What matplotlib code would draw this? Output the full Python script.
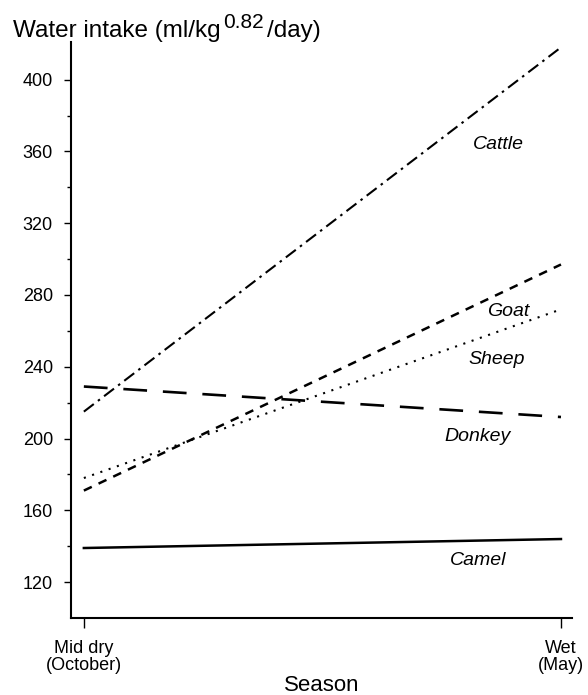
import matplotlib
matplotlib.use("Agg")
import matplotlib.pyplot as plt
from matplotlib.transforms import offset_copy

plt.rcParams['font.family'] = ['Liberation Sans', 'DejaVu Sans']

# Seasons on the x axis
seasons = ["Mid dry\n(October)", "Wet\n(May)"]
season_pos = [0, 1]

# Water intake (ml/kg^0.82/day) per species, mid dry -> wet
species = ["Cattle", "Goat", "Sheep", "Donkey", "Camel"]
cattle = [215, 418]
goat = [171, 297]
sheep = [178, 272]
donkey = [229, 212]
camel = [139, 144]

y_ticks = [120, 160, 200, 240, 280, 320, 360, 400]
y_minor = [140, 180, 220, 260, 300, 340, 380]

fig = plt.figure(figsize=(5.88, 6.95), dpi=100)
ax = fig.add_axes([0.1207, 0.1108, 0.852, 0.8288])

lw = 1.5
ax.plot(season_pos, cattle, color='black', lw=lw, linestyle=(0, (6, 2.5, 1.2, 2.5)))
ax.plot(season_pos, goat, color='black', lw=lw + 0.3, linestyle=(0, (3.5, 3)))
ax.plot(season_pos, sheep, color='black', lw=lw, linestyle=(0, (1, 3.2)))
ax.plot(season_pos, donkey, color='black', lw=lw + 0.4, linestyle=(0, (9, 6)))
ax.plot(season_pos, camel, color='black', lw=lw + 0.3, linestyle='-')

# Species labels placed beside their lines
label_pos = {
    "Cattle": (0.868, 364),
    "Goat": (0.890, 271),
    "Sheep": (0.866, 244),
    "Donkey": (0.826, 201),
    "Camel": (0.826, 132),
}
for name in species:
    x, y = label_pos[name]
    ax.text(x, y, name, style='italic', fontsize=14, ha='center', va='center')

ax.set_xlim(-0.027, 1.023)
ax.set_ylim(100, 421)

ax.set_yticks(y_ticks)
ax.set_yticks(y_minor, minor=True)
ax.set_yticklabels([str(v) for v in y_ticks], fontsize=13)
ax.tick_params(axis='y', which='major', direction='out', length=5, width=1, pad=8)
ax.tick_params(axis='y', which='minor', direction='out', length=3, width=1)

ax.set_xticks(season_pos)
ax.set_xticklabels(seasons, fontsize=13, linespacing=0.95)
ax.tick_params(axis='x', direction='out', length=7, width=1, pad=9)

for side in ('top', 'right'):
    ax.spines[side].set_visible(False)
for side in ('left', 'bottom'):
    ax.spines[side].set_linewidth(1.5)

# Axis title with a raised exponent, laid out piece by piece
renderer = fig.canvas.get_renderer()
base_y = 1 - 37 / 695
base_px = base_y * fig.bbox.height
t1 = fig.text(13 / 588, base_y, 'Water intake (ml/kg', fontsize=17.5,
              ha='left', va='baseline')
x1 = t1.get_window_extent(renderer).x1
t2 = fig.text(0, 0, '0.82', fontsize=15, ha='left', va='baseline',
              transform=offset_copy(fig.transFigure, fig, x=x1 + 2, y=base_px + 9,
                                    units='dots'))
x2 = t2.get_window_extent(renderer).x1
fig.text(0, 0, '/day)', fontsize=17.5, ha='left', va='baseline',
         transform=offset_copy(fig.transFigure, fig, x=x2 + 4, y=base_px,
                               units='dots'))

fig.text(322 / 588, 1 - 691 / 695, 'Season', fontsize=16, ha='center', va='baseline')

fig.savefig('out.png', dpi=100)
